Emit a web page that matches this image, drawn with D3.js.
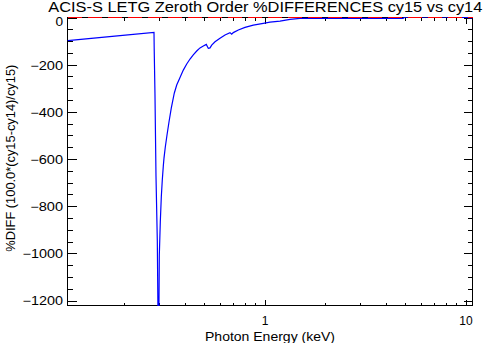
<!DOCTYPE html>
<html>
<head>
<meta charset="utf-8">
<script src="https://cdn.jsdelivr.net/npm/d3@7"></script>
<style>
  html, body { margin: 0; padding: 0; background: #fff; }
  svg { display: block; }
  text { font-family: "Liberation Sans", Arial, sans-serif; fill: #000; }
</style>
</head>
<body>
<svg id="chart" width="492" height="343"></svg>
<script>
// Photon energy (keV) and percent difference 100*(cy15-cy14)/cy15
const energy = [
  0.105, 0.18, 0.2820, 0.2826, 0.2852, 0.2885, 0.2929, 0.2970,
  0.2997, 0.3031, 0.3066, 0.3101, 0.3137, 0.3162, 0.3210, 0.3273,
  0.3348, 0.3437, 0.3557, 0.3658, 0.3799, 0.3945, 0.4102, 0.4260,
  0.4422, 0.4600, 0.4776, 0.4961, 0.5134, 0.5253, 0.5356, 0.5461,
  0.5672, 0.6006, 0.6361, 0.6734, 0.6866, 0.6995, 0.7409, 0.7998,
  0.8797, 0.9863, 1.0651, 1.194, 1.339, 1.502, 2.0, 3.0,
  4.0, 4.89, 5.0, 7.0, 9.0, 10.2, 10.5, 10.83
];
const pctDiff = [
  -98, -79, -63, -129, -329, -672, -948, -1500,
  -1007, -867, -761, -689, -630, -596, -549, -498,
  -443, -384, -321, -286, -254, -223, -197, -176,
  -158, -142, -129, -121, -114, -131, -129, -117,
  -103, -88, -74, -64, -71, -64, -53, -42,
  -32, -25, -20, -15, -8, -4, -4, -4,
  -4, -4, 2, 3, 2, 0, -2, -2
];

// Axis settings
const xDomain = [0.1047, 10.83];
const yDomain = [-1221, 0];
const xMajorTicks = [1, 10];
const xMinorTicks = [0.2, 0.3, 0.4, 0.5, 0.6, 0.7, 0.8, 0.9, 2, 3, 4, 5, 6, 7, 8, 9];
const yMajorTicks = [0, -200, -400, -600, -800, -1000, -1200];
const yMinorTicks = d3.range(-50, -1201, -50).filter(v => v % 200 !== 0);
const referenceLevel = 0;

const titleText = "ACIS-S LETG Zeroth Order %DIFFERENCES cy15 vs cy14";
const xTitle = "Photon Energy (keV)";
const yTitle = "%DIFF (100.0*(cy15-cy14)/cy15)";

const svg = d3.select("#chart");
const L = 67.5, R = 472.5, T = 17.5, B = 305.5;

const x = d3.scaleLog().domain(xDomain).range([L, R]);
const y = d3.scaleLinear().domain(yDomain).range([B, T]);

svg.append("defs").append("clipPath").attr("id", "plotClip")
  .append("rect").attr("x", L - 0.5).attr("y", T - 0.5)
  .attr("width", R - L + 1).attr("height", B - T + 1);

function styleAxis(g) {
  g.select(".domain").remove();
  g.selectAll("line").attr("stroke", "#000").attr("stroke-width", 1)
    .attr("shape-rendering", "crispEdges");
}

// Plot frame
svg.append("rect")
  .attr("x", L).attr("y", T).attr("width", R - L).attr("height", B - T)
  .attr("fill", "none").attr("stroke", "#000").attr("stroke-width", 1)
  .attr("shape-rendering", "crispEdges");

// Bottom axis: labelled majors, unlabelled minors
svg.append("g").attr("transform", `translate(0,${B})`)
  .call(d3.axisBottom(x).tickValues(xMajorTicks).tickFormat(d3.format("d"))
    .tickSize(-6).tickPadding(10.5))
  .call(styleAxis)
  .call(g => g.selectAll("text").attr("font-size", 12));
svg.append("g").attr("transform", `translate(0,${B})`)
  .call(d3.axisBottom(x).tickValues(xMinorTicks).tickFormat("").tickSize(-3))
  .call(styleAxis);

// Top axis mirrors the bottom ticks
svg.append("g").attr("transform", `translate(0,${T})`)
  .call(d3.axisTop(x).tickValues(xMajorTicks).tickFormat("").tickSize(-6))
  .call(styleAxis);
svg.append("g").attr("transform", `translate(0,${T})`)
  .call(d3.axisTop(x).tickValues(xMinorTicks).tickFormat("").tickSize(-3))
  .call(styleAxis);

// Left axis; the top label sits a little lower so it clears the title
svg.append("g").attr("transform", `translate(${L},0)`)
  .call(d3.axisLeft(y).tickValues(yMajorTicks).tickFormat(d3.format("d"))
    .tickSize(-9).tickPadding(4.5))
  .call(styleAxis)
  .call(g => g.selectAll("text").attr("font-size", 12)
    .attr("y", d => d === yDomain[1] ? 4.5 : 0.5)
    .each(function () {
      const s = this.textContent;
      const digits = s.replace("\u2212", "").length;
      const w = (s.startsWith("\u2212") ? 10 : 0) + 7.6 * digits;
      d3.select(this).attr("textLength", w).attr("lengthAdjust", "spacingAndGlyphs");
    }));
svg.append("g").attr("transform", `translate(${L},0)`)
  .call(d3.axisLeft(y).tickValues(yMinorTicks).tickFormat("").tickSize(-5))
  .call(styleAxis);

// Right axis
svg.append("g").attr("transform", `translate(${R},0)`)
  .call(d3.axisRight(y).tickValues(yMajorTicks).tickFormat("").tickSize(-9))
  .call(styleAxis);
svg.append("g").attr("transform", `translate(${R},0)`)
  .call(d3.axisRight(y).tickValues(yMinorTicks).tickFormat("").tickSize(-5))
  .call(styleAxis);

// Data curve
const line = d3.line().x((d, i) => x(energy[i])).y(d => y(d));
svg.append("path")
  .datum(pctDiff)
  .attr("clip-path", "url(#plotClip)")
  .attr("d", line)
  .attr("fill", "none")
  .attr("stroke", "#0000ff")
  .attr("stroke-width", 1.2)
  .attr("stroke-linejoin", "miter");

// Zero reference line
svg.append("line")
  .attr("x1", x(xDomain[0])).attr("x2", x(xDomain[1]))
  .attr("y1", y(referenceLevel)).attr("y2", y(referenceLevel))
  .attr("stroke", "#ff0000").attr("stroke-width", 1)
  .attr("stroke-dasharray", "14,6")
  .attr("shape-rendering", "crispEdges");

// Titles
svg.append("text")
  .attr("x", 48.3).attr("y", 11.5)
  .attr("font-size", 14)
  .attr("textLength", 434).attr("lengthAdjust", "spacingAndGlyphs")
  .text(titleText);

svg.append("text")
  .attr("x", 205).attr("y", 340.5)
  .attr("font-size", 13)
  .attr("textLength", 130).attr("lengthAdjust", "spacingAndGlyphs")
  .text(xTitle);

svg.append("text")
  .attr("transform", "translate(15.3,251.7) rotate(-90)")
  .attr("font-size", 13)
  .attr("textLength", 187).attr("lengthAdjust", "spacingAndGlyphs")
  .text(yTitle);
</script>
</body>
</html>
